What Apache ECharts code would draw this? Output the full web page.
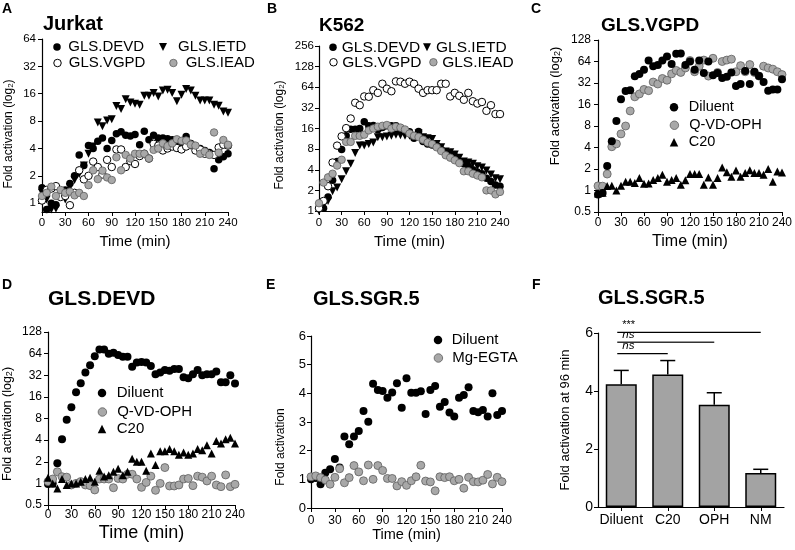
<!DOCTYPE html>
<html><head><meta charset="utf-8">
<script src="https://cdn.jsdelivr.net/npm/echarts@6/dist/echarts.min.js"></script>
<style>html,body{margin:0;padding:0;background:#fff}#c{width:795px;height:550px}</style>
</head><body><div id="c"></div>
<script>
// ---------- data ----------
const minutes = [0,6,12,18,24,30,36,42,48,54,60,66,72,78,84,90,96,102,108,114,120,126,132,138,144,150,156,162,168,174,180,186,192,198,204,210,216,222,228,234,240];
const yTicksA = [1,2,4,8,16,32,64];

// A  Jurkat
const jurkatDEVD = [1.48,0.85,1.0,0.96,1.27,1.4,1.65,2.0,3.4,2.6,4.3,4.0,4.8,5.2,4.0,4.9,5.8,6.1,5.6,5.5,5.7,4.4,6.2,5.0,5.6,5.2,5.2,5.1,5.0,4.8,4.3,5.4,4.3,4.2,4.0,3.8,3.6,2.4,3.0,3.25,3.5];
const jurkatIETD = [1.3,1.1,0.85,0.87,1.2,1.1,1.5,1.8,2.1,2.6,3.5,4.2,7.7,7.0,8.1,8.4,11.7,10.9,13.9,12.8,12.4,12.1,15.2,15.2,16.3,14.9,17.4,17.7,16.3,13.2,15.6,18.0,17.4,15.2,13.5,13.5,13.5,12.1,11.8,10.2,9.9];
const jurkatVGPD = [1.07,1.4,1.45,1.54,1.17,1.2,0.95,1.3,2.3,1.83,2.0,2.87,2.5,2.07,3.0,2.5,3.9,3.9,2.5,2.9,2.7,3.3,3.5,3.1,4.5,4.3,3.8,4.0,4.2,4.05,3.9,4.2,4.5,3.8,3.9,3.5,3.5,3.4,4.1,4.4,4.3];
const jurkatIEAD = [1.2,1.3,1.52,1.2,1.4,1.3,1.34,1.22,1.3,1.2,1.58,2.3,1.84,2.28,1.92,1.8,3.2,2.3,3.4,3.1,3.5,3.5,3.5,3.1,3.86,4.0,4.55,4.26,4.55,5.05,4.85,4.9,4.4,4.3,3.5,3.7,3.4,6.0,3.6,4.96,4.4];

// B  K562
const k562DEVD = [1.1,1.1,1.6,2.8,5.3,7.9,12.5,15.6,15.6,16,20,17.5,17.7,15.3,16.5,17.5,17.5,17.5,15.2,14.3,14.3,11.5,14.5,10.3,9.5,9.2,9.0,7.9,7.2,6.5,6.3,5.3,4.9,4.5,4.0,3.7,3.5,3.0,2.7,2.4,2.3];
const k562IETD = [1.0,1.2,1.4,1.95,2.2,2.9,3.8,4.9,7.0,9.0,9.0,9.5,10,11.9,11.9,12.2,12.5,13,12.7,12.5,12.5,11.9,13.5,11.9,11.5,11.2,9.5,8.5,7.4,7.2,6.7,6.0,5.3,5.1,4.9,4.5,4.3,3.9,3.4,3.0,2.9];
const k562VGPD = [1.1,1.4,2.3,5.1,9.0,12.3,16.2,22.4,38,35,47,46.5,58,53,72,61,56,78,77,72,77,72,61,53,58,58,58,72,72,47,53,48,42,53,40,37,39,29,35,26,26];
const k562IEAD = [1.3,2.6,3.1,3.5,4.6,5.6,10.2,10.2,12.5,12.5,13,15,16,17,17.5,18,16,17,16.5,15.5,13.5,12.5,12,11,10,9.5,8.5,7.5,6.5,6.0,5.5,5.0,3.8,3.8,3.5,3.3,3.1,2.0,2.0,1.75,1.9];

// C  GLS.VGPD
const vgpdDiluent = [0.88,0.92,2.2,4.9,9.4,18.9,24.8,25.3,39.7,42.8,49,66,55,57,66,75,59,82,83,57,64,49,66,44,64,41,44,37.5,39,45,29,31,47,31,46,40,33,25,26,26,36];
const vgpdQVD = [1.16,1.15,1.7,4.1,4.5,6.2,8.0,13,20.5,22.5,26,25,33,31,37,35,43,48,45,52,66,46,55,67,40,71,45,64,67,69,46,56,46,58,45,40,55,52,50,46,42];
const vgpdC20 = [0.91,0.93,1.16,1.17,1.0,1.17,1.33,1.33,1.27,1.5,1.24,1.25,1.4,1.5,1.66,1.33,1.4,1.5,1.2,1.39,1.7,1.7,1.7,1.2,1.52,1.2,1.5,2.1,1.8,1.56,1.9,1.56,1.76,1.92,1.76,1.76,1.66,2.0,1.33,1.84,1.78];

// D  GLS.DEVD
const devdDiluent = [0.98,1.0,1.9,4.1,7.7,11.5,18.5,24.7,35,44,59,73,73,64,66,61,58,58,42,48,49,48,43,33,35,38,37,39,39,30,29,33,38,32,33,33,36,25.5,25.5,32,24.5];
const devdQVD = [1.06,1.15,1.45,1.24,1.22,0.95,1.0,1.06,0.95,0.93,0.81,1.15,1.15,1.15,0.87,1.17,1.15,1.34,1.34,1.15,0.88,1.03,1.26,0.80,1.0,1.66,0.92,0.92,0.95,1.15,1.17,0.93,1.26,1.22,1.08,1.26,0.95,0.90,1.31,0.90,0.97];
const devdC20 = [1.2,1.0,0.85,1.15,0.95,1.0,1.0,1.05,1.15,1.2,1.05,1.5,1.25,1.3,1.45,1.6,1.3,1.45,2.2,2.0,2.0,1.5,2.6,1.8,2.8,2.8,3.0,2.8,2.5,2.7,2.5,2.6,3.0,2.9,3.4,2.6,3.9,3.6,4.1,4.3,3.6];

// E  GLS.SGR.5 (linear)
const sgrDiluent = [1.0,1.05,0.83,1.23,1.35,1.71,1.41,2.49,2.22,2.49,2.69,3.38,3.01,4.33,4.12,4.08,3.85,4.03,4.35,3.5,4.53,4.02,4.02,4.07,3.28,4.12,4.26,3.53,3.7,3.33,3.19,3.85,3.94,4.21,3.38,3.34,3.42,3.19,4.0,3.24,3.38];
const sgrMgEGTA = [1.09,1.12,1.06,0.98,0.83,1.07,1.37,0.88,1.06,1.48,1.26,0.95,1.5,1.0,1.48,1.31,1.03,1.03,0.77,0.92,0.79,0.95,1.09,1.49,0.94,0.91,0.6,1.09,1.06,1.09,0.95,1.0,0.69,1.07,0.92,0.91,0.97,1.17,0.84,1.07,0.92];

// F  bars at 96 min
const fCategories = ['Diluent','C20','OPH','NM'];
const fMeans = [4.23,4.57,3.53,1.17];
const fSem = [0.48,0.48,0.41,0.13];
const fSigTo = ['NM','OPH','C20'];
const fSigLevel = [6.02,5.68,5.29];
const fSigText = ['***','ns','ns'];

// ---------- styling ----------
const FONT = '"Liberation Sans", Arial, Helvetica, sans-serif';
const BLACK = {color:'#000', opacity:1};
const OPEN = {color:'#fff', borderColor:'#000', borderWidth:1, opacity:1};
const GRAY = {color:'#a8a8a8', borderColor:'#5e5e5e', borderWidth:0.8, opacity:1};
const DOWN_TRI = 'path://M0,0L10,0L5,10Z';

const grids = [
  {left:42,  top:39,  width:186, height:173},
  {left:319, top:46,  width:181, height:165},
  {left:598, top:40,  width:185, height:172},
  {left:48,  top:332, width:187, height:173},
  {left:311, top:336, width:191, height:172},
  {left:598, top:333, width:186, height:174}
];

function pts(arr){ return minutes.map((t,i)=>[t, arr[i]]); }
function sc(name, gi, arr, style, symbol, size, rotate){
  return {type:'scatter', name, xAxisIndex:gi, yAxisIndex:gi, data:pts(arr),
    symbol, symbolSize:size, symbolRotate:rotate||0, itemStyle:style, silent:true, clip:false,
    emphasis:{disabled:true}};
}
const fmtNum = v => String(Math.round(v*1000)/1000);

function timeAxis(gi, labelSize, margin, nameSize, nameGap){
  return {type:'value', gridIndex:gi, min:0, max:240, interval:30,
    axisLine:{show:true, onZero:false, lineStyle:{color:'#000', width:1.2}},
    axisTick:{show:true, length:4, lineStyle:{color:'#000', width:1}},
    axisLabel:{color:'#000', fontSize:labelSize, fontFamily:FONT, margin, showMinLabel:true, showMaxLabel:true},
    splitLine:{show:false},
    name:'Time (min)', nameLocation:'middle', nameGap,
    nameTextStyle:{color:'#000', fontSize:nameSize, fontFamily:FONT}};
}
function yName(fs){
  return {color:'#000', fontSize:fs, fontFamily:FONT,
    rich:{s:{fontSize:Math.round(fs*0.68), fontFamily:FONT, color:'#000', verticalAlign:'bottom'}}};
}
function logAxis(gi, min, max, labelSize, margin, nameSize, nameGap, pad, custom){
  const ax = {type:'log', logBase:2, gridIndex:gi, min, max,
    axisLine:{show:true, onZero:false, lineStyle:{color:'#000', width:1.2}},
    axisTick:{show:true, length:4, lineStyle:{color:'#000', width:1}},
    axisLabel:{color:'#000', fontSize:labelSize, fontFamily:FONT, margin, formatter:fmtNum},
    splitLine:{show:false}, minorTick:{show:false},
    name:'Fold activation (log{s|2})', nameLocation:'middle', nameGap, nameRotate:90,
    nameTextStyle:Object.assign(yName(nameSize), {padding:pad})};
  if (custom){ ax.axisTick.customValues = custom; ax.axisLabel.customValues = custom; }
  else { ax.interval = 1; }
  return ax;
}

function legendItem(name, cx, cy, size, fs, pad, style, icon){
  return {show:true, selectedMode:false, orient:'horizontal',
    data:[{name, icon, itemStyle:Object.assign({}, style)}],
    left:cx - size/2, top:cy - Math.max(size, fs)/2, padding:0,
    itemWidth:size, itemHeight:size, itemGap:0,
    textStyle:{color:'#000', fontSize:fs, fontFamily:FONT, padding:[0,0,0,pad]}};
}
function titleItem(text, x, y, fs){
  return {text, left:x, top:y, padding:0,
    textStyle:{color:'#000', fontSize:fs, fontWeight:'bold', fontFamily:FONT}};
}

const xAxes = [
  timeAxis(0, 11.5, 5, 15, 22),
  timeAxis(1, 11.5, 6, 15, 23),
  timeAxis(2, 12, 5, 16, 22),
  timeAxis(3, 12, 4, 18, 19),
  timeAxis(4, 12, 7, 14.5, 18),
  {type:'category', gridIndex:5, data:fCategories,
    axisLine:{show:true, onZero:false, lineStyle:{color:'#000', width:1.2}},
    axisTick:{show:true, alignWithLabel:true, length:4, lineStyle:{color:'#000'}},
    axisLabel:{color:'#000', fontSize:14, fontFamily:FONT, margin:6, interval:0, hideOverlap:false},
    splitLine:{show:false}}
];
const yAxes = [
  logAxis(0, 0.8, 64, 11.5, 6, 12, 27, [0,17,0,0], yTicksA),
  logAxis(1, 1, 256, 11.5, 5, 12, 33, [0,13,0,0]),
  logAxis(2, 0.5, 128, 12, 7, 13, 36, [0,0,0,40]),
  logAxis(3, 0.5, 128, 12, 6, 12.5, 34, [0,11,0,0]),
  {type:'value', gridIndex:4, min:0, max:6, interval:1,
    axisLine:{show:true, onZero:false, lineStyle:{color:'#000', width:1.2}},
    axisTick:{show:true, length:4, lineStyle:{color:'#000'}},
    axisLabel:{color:'#000', fontSize:13, fontFamily:FONT, margin:5},
    splitLine:{show:false},
    name:'Fold activation', nameLocation:'middle', nameGap:24, nameRotate:90,
    nameTextStyle:{color:'#000', fontSize:12, fontFamily:FONT, padding:[0,50,0,0]}},
  {type:'value', gridIndex:5, min:0, max:6, interval:2,
    axisLine:{show:true, onZero:false, lineStyle:{color:'#000', width:1.2}},
    axisTick:{show:true, length:4, lineStyle:{color:'#000'}},
    axisLabel:{color:'#000', fontSize:14, fontFamily:FONT, margin:5},
    splitLine:{show:false},
    name:'Fold activation at 96 min', nameLocation:'middle', nameGap:26, nameRotate:90,
    nameTextStyle:{color:'#000', fontSize:13, fontFamily:FONT}}
];

const series = [
  sc('GLS.DEVD', 0, jurkatDEVD, BLACK, 'circle', 7.5),
  sc('GLS.IETD', 0, jurkatIETD, BLACK, 'triangle', 8, 180),
  sc('GLS.VGPD', 0, jurkatVGPD, OPEN, 'circle', 7.5),
  sc('GLS.IEAD', 0, jurkatIEAD, GRAY, 'circle', 7.5),

  sc('GLS.DEVD', 1, k562DEVD, BLACK, 'circle', 7.5),
  sc('GLS.IETD', 1, k562IETD, BLACK, 'triangle', 8, 180),
  sc('GLS.VGPD', 1, k562VGPD, OPEN, 'circle', 7.5),
  sc('GLS.IEAD', 1, k562IEAD, GRAY, 'circle', 7.5),

  sc('Q-VD-OPH', 2, vgpdQVD, GRAY, 'circle', 8),
  sc('Diluent', 2, vgpdDiluent, BLACK, 'circle', 8),
  sc('C20', 2, vgpdC20, BLACK, 'triangle', 8),

  sc('Diluent', 3, devdDiluent, BLACK, 'circle', 8),
  sc('Q-VD-OPH', 3, devdQVD, GRAY, 'circle', 8),
  sc('C20', 3, devdC20, BLACK, 'triangle', 8),

  sc('Diluent', 4, sgrDiluent, BLACK, 'circle', 8),
  sc('Mg-EGTA', 4, sgrMgEGTA, GRAY, 'circle', 8),

  {type:'bar', name:'fold96', xAxisIndex:5, yAxisIndex:5, data:fMeans, barWidth:31, clip:false, silent:true,
    itemStyle:{color:'#a3a3a3', borderColor:'#000', borderWidth:1.5}},
  {type:'custom', name:'sem', xAxisIndex:5, yAxisIndex:5, silent:true, z:3,
    data: fMeans.map((m,i)=>[i, m, m + fSem[i]]),
    renderItem(params, api){
      const b = api.coord([api.value(0), api.value(1)]);
      const t = api.coord([api.value(0), api.value(2)]);
      return {type:'group', children:[
        {type:'line', shape:{x1:b[0], y1:b[1], x2:b[0], y2:t[1]}, style:{stroke:'#000', lineWidth:1.5}},
        {type:'line', shape:{x1:b[0]-7.5, y1:t[1], x2:b[0]+7.5, y2:t[1]}, style:{stroke:'#000', lineWidth:1.5}}
      ]};
    }},
  {type:'custom', name:'significance', xAxisIndex:5, yAxisIndex:5, silent:true, z:4, clip:false,
    data: fSigTo.map((to,i)=>[0, fCategories.indexOf(to), fSigLevel[i], i]),
    renderItem(params, api){
      const a = api.coord([api.value(0), api.value(2)]);
      const b = api.coord([api.value(1), api.value(2)]);
      const k = api.value(3);
      return {type:'group', children:[
        {type:'line', shape:{x1:a[0]-4, y1:a[1], x2:b[0], y2:b[1]}, style:{stroke: k===1 ? '#333' : '#000', lineWidth: k===1 ? 1.6 : 1.2}},
        {type:'text', x:a[0]+1, y:a[1]-1.5, style:{text:fSigText[k], fill:'#000', fontSize: k===0 ? 11 : 11.5,
          fontStyle: k===0 ? 'normal' : 'italic', fontFamily:FONT, align:'left', verticalAlign:'bottom'}}
      ]};
    }}
];

const legends = [
  legendItem('GLS.DEVD', 57, 47, 7.5, 15, 2.5, BLACK, 'circle'),
  legendItem('GLS.IETD', 163, 47, 8, 15, 6, BLACK, DOWN_TRI),
  legendItem('GLS.VGPD', 57, 63, 7.5, 15, 2.5, OPEN, 'circle'),
  legendItem('GLS.IEAD', 173, 63, 7.5, 15, 3.5, GRAY, 'circle'),

  legendItem('GLS.DEVD', 333, 47, 7.5, 15.5, 0, BLACK, 'circle'),
  legendItem('GLS.IETD', 427, 47, 8, 15.5, 0, BLACK, DOWN_TRI),
  legendItem('GLS.VGPD', 333, 62, 7.5, 15.5, 0, OPEN, 'circle'),
  legendItem('GLS.IEAD', 433, 62, 7.5, 15.5, 0, GRAY, 'circle'),

  legendItem('Diluent', 674, 107, 8.5, 14.5, 5.5, BLACK, 'circle'),
  legendItem('Q-VD-OPH', 674, 125, 8.5, 14.5, 5.5, GRAY, 'circle'),
  legendItem('C20', 674, 142, 8.5, 14.5, 5.5, BLACK, 'triangle'),

  legendItem('Diluent', 102, 393, 8.5, 15, 5.5, BLACK, 'circle'),
  legendItem('Q-VD-OPH', 102, 412, 8.5, 15, 5.5, GRAY, 'circle'),
  legendItem('C20', 102, 429, 8.5, 15, 5.5, BLACK, 'triangle'),

  legendItem('Diluent', 438, 340, 8.5, 15, 4.5, BLACK, 'circle'),
  legendItem('Mg-EGTA', 438, 358, 8.5, 15, 4.5, GRAY, 'circle')
];

const titles = [
  titleItem('A', 2, 2, 14), titleItem('B', 267, 2, 14), titleItem('C', 531, 2, 14),
  titleItem('D', 2, 278.5, 14), titleItem('E', 266, 278.5, 14), titleItem('F', 532, 278.5, 14),
  titleItem('Jurkat', 43, 14.5, 20), titleItem('K562', 319, 16, 19), titleItem('GLS.VGPD', 601, 16, 19),
  titleItem('GLS.DEVD', 48, 289, 21), titleItem('GLS.SGR.5', 313, 289, 20), titleItem('GLS.SGR.5', 598, 288, 20)
];

const chart = echarts.init(document.getElementById('c'), null, {renderer:'canvas'});
chart.setOption({
  animation:false, backgroundColor:'#fff',
  title:titles, legend:legends, grid:grids, xAxis:xAxes, yAxis:yAxes, series
});
</script></body></html>
